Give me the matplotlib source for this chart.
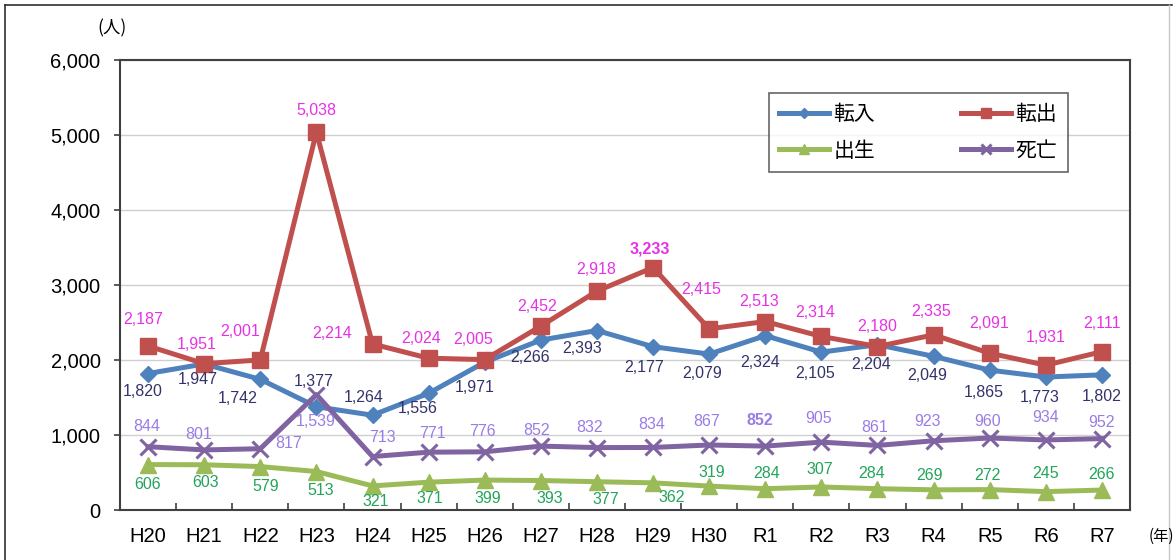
import matplotlib.pyplot as plt
from matplotlib.lines import Line2D

plt.rcParams['font.family'] = ['Liberation Sans', 'Noto Sans CJK JP', 'DejaVu Sans']

nam = ['H20', 'H21', 'H22', 'H23', 'H24', 'H25', 'H26', 'H27', 'H28', 'H29',
       'H30', 'R1', 'R2', 'R3', 'R4', 'R5', 'R6', 'R7']

ten_nyu = [1820, 1947, 1742, 1377, 1264, 1556, 1971, 2266, 2393, 2177,
           2079, 2324, 2105, 2204, 2049, 1865, 1773, 1802]
ten_shutsu = [2187, 1951, 2001, 5038, 2214, 2024, 2005, 2452, 2918, 3233,
              2415, 2513, 2314, 2180, 2335, 2091, 1931, 2111]
shussei = [606, 603, 579, 513, 321, 371, 399, 393, 377, 362,
           319, 284, 307, 284, 269, 272, 245, 266]
shibo = [844, 801, 817, 1539, 713, 771, 776, 852, 832, 834,
         867, 852, 905, 861, 923, 960, 934, 952]

# label offsets in pixels (dx, dy up)
off_nyu = [(-5, -18), (-6, -16), (-23, -19), (-3, 25), (-9, 18), (-11, -15),
           (-10, -25), (-11, -17), (-15, -18), (-9, -21), (-7, -19), (-5, -27),
           (-6, -21), (-6, -20), (-6, -19), (-6, -22), (-6, -20), (0, -22)]
off_shutsu = [(-5, 26), (-7, 19), (-20, 28), (0, 22), (-40, 10), (-7, 20),
              (-12, 20), (-4, 20), (-1, 22), (-3, 19), (-8, 39), (-6, 20),
              (-6, 24), (0, 20), (-2, 23), (-1, 30), (0, 28), (0, 28)]
off_shussei = [(0, -20), (1, -18), (5, -20), (4, -19), (3, -16), (1, -16),
               (3, -18), (9, -18), (9, -18), (19, -15), (3, 14), (1, 15),
               (-2, 17), (-6, 15), (-4, 14), (-2, 14), (0, 18), (0, 16)]
off_shibo = [(-1, 20), (-6, 15), (28, 5), (-1, -27), (10, 19), (4, 19),
             (-2, 20), (-4, 16), (-7, 20), (-1, 23), (-3, 23), (-5, 26),
             (-3, 24), (-3, 18), (-6, 19), (-2, 16), (0, 22), (0, 16)]

fig = plt.figure(figsize=(11.76, 5.6), dpi=100)
ax = fig.add_axes([120 / 1176, 50 / 560, 1010 / 1176, 450 / 560])

x = list(range(len(nam)))

series = [
    ('転入', ten_nyu, '#4F81BD', 'D', 8.5, '#33336B', off_nyu, []),
    ('転出', ten_shutsu, '#C0504D', 's', 12, '#E632E6', off_shutsu, [9]),
    ('出生', shussei, '#9BBB59', '^', 12, '#22A45A', off_shussei, []),
    ('死亡', shibo, '#8064A2', 'x', 11, '#9A7CE6', off_shibo, [11]),
]

lines = {}
for ten, vals, mau, mk, ms, mau_chu, offs, dam in series:
    if mk == 'x':
        ln, = ax.plot(x, vals, color=mau, lw=3.6, marker=mk, ms=ms, mew=2.2, label=ten)
    else:
        ln, = ax.plot(x, vals, color=mau, lw=3.6, marker=mk, ms=ms, mec=mau, label=ten)
    lines[ten] = ln
    for i, v in enumerate(vals):
        dx, dy = offs[i]
        ax.annotate(f'{v:,}', (i, v), xytext=(dx * 0.72, dy * 0.72),
                    textcoords='offset points', ha='center', va='center',
                    fontsize=11.5, color=mau_chu,
                    fontweight='bold' if i in dam else 'normal')

ax.set_xlim(-0.5, len(nam) - 0.5)
ax.set_ylim(0, 6000)
ax.set_yticks(range(0, 6001, 1000))
ax.set_yticklabels([f'{t:,}' for t in range(0, 6001, 1000)])
ax.set_xticks(x)
ax.set_xticklabels(nam)
ax.set_xticks([i + 0.5 for i in range(len(nam) - 1)], minor=True)
ax.tick_params(axis='x', which='major', length=0, pad=12, labelsize=14.5)
ax.tick_params(axis='x', which='minor', direction='in', length=5, width=1.2, color='#404040')
ax.tick_params(axis='y', direction='out', length=4, width=1.2, pad=10, labelsize=14.5, color='#404040')
ax.grid(axis='y', color='#D0D0D0', lw=1)
ax.set_axisbelow(True)
for s in ax.spines.values():
    s.set_color('#404040')
    s.set_linewidth(1.5)

# legend: row 1 転入 転出, row 2 出生 死亡
thu_tu = ['転入', '出生', '転出', '死亡']
leg = ax.legend([lines[k] for k in thu_tu], thu_tu, loc='center', ncol=2,
                bbox_to_anchor=(0.632, 0.751, 0.3165, 0.176),
                mode='expand', frameon=True, fancybox=False,
                edgecolor='#404040', handlelength=2.4, markerscale=0.6,
                labelspacing=0.7, borderpad=0.5, handletextpad=0.2,
                prop={'family': ['Noto Sans CJK JP'], 'size': 15})
leg.get_frame().set_linewidth(1.2)

fig.text(112 / 1176, 1 - 28 / 560, '(人)', ha='center', va='center', fontsize=12.5,
         family=['Noto Sans CJK JP'])
fig.text(1161 / 1176, 1 - 536 / 560, '(年)', ha='center', va='center', fontsize=11,
         family=['Noto Sans CJK JP'])

# outer frame
fig.add_artist(Line2D([5 / 1176, 1172 / 1176], [1 - 5 / 560, 1 - 5 / 560],
                      transform=fig.transFigure, color='#303030', lw=1.2))
fig.add_artist(Line2D([5 / 1176, 5 / 1176], [0, 1 - 5 / 560],
                      transform=fig.transFigure, color='#303030', lw=1.2))
fig.add_artist(Line2D([1169 / 1176, 1169 / 1176], [0, 1 - 5 / 560],
                      transform=fig.transFigure, color='#C8C8C8', lw=1))

plt.savefig('out.png', dpi=100)
